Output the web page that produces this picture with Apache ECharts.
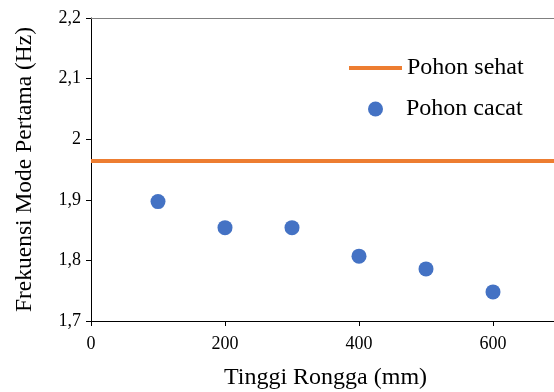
<!DOCTYPE html>
<html><head><meta charset="utf-8">
<script src="https://cdn.jsdelivr.net/npm/echarts@6/dist/echarts.min.js"></script>
<style>html,body{margin:0;padding:0;background:#fff}#c{width:554px;height:392px}</style>
</head><body><div id="c"></div>
<script>
var xValues = [100, 200, 300, 400, 500, 600];
var cacatValues = [1.897, 1.854, 1.854, 1.807, 1.786, 1.748];
var sehatValue = 1.964;
var sehatRange = [0, 700];

var font = 'Liberation Serif, Times New Roman, serif';
var chart = echarts.init(document.getElementById('c'), null, {renderer: 'canvas'});
chart.setOption({
  animation: false,
  textStyle: {fontFamily: font},
  grid: {left: 91, top: 18, width: 469, height: 303, containLabel: false, outerBoundsMode: 'none'},
  legend: [
    {data: [{name: 'Pohon sehat', icon: 'rect'}], left: 344, top: 51, itemWidth: 53, itemHeight: 4, itemGap: 0,
     textStyle: {fontFamily: font, fontSize: 24, color: '#000'}},
    {data: [{name: 'Pohon cacat', icon: 'circle'}], left: 363, top: 92, itemWidth: 15, itemHeight: 15,
     textStyle: {fontFamily: font, fontSize: 24, color: '#000', padding: [0, 0, 0, 18]}}
  ],
  xAxis: [{
    type: 'value', min: 0, max: 700, interval: 200,
    name: 'Tinggi Rongga (mm)', nameLocation: 'middle', nameGap: 45,
    nameTextStyle: {fontFamily: font, fontSize: 24, color: '#000'},
    axisLine: {lineStyle: {color: '#000', width: 1}},
    axisTick: {show: true, length: 5, lineStyle: {color: '#000'}},
    axisLabel: {fontFamily: font, fontSize: 18, color: '#000', margin: 14, showMaxLabel: false},
    splitLine: {show: false}
  }, {
    type: 'value', position: 'top', min: 0, max: 700,
    axisLine: {show: true, lineStyle: {color: '#808080', width: 1}},
    axisTick: {show: false}, axisLabel: {show: false}, splitLine: {show: false}
  }],
  yAxis: {
    type: 'value', min: 1.7, max: 2.2, interval: 0.1,
    name: 'Frekuensi Mode Pertama (Hz)', nameLocation: 'middle', nameGap: 54,
    nameTextStyle: {fontFamily: font, fontSize: 23.5, color: '#000'},
    axisLine: {show: true, lineStyle: {color: '#000', width: 1}},
    axisTick: {show: true, length: 5, lineStyle: {color: '#000'}},
    axisLabel: {fontFamily: font, fontSize: 18, color: '#000', margin: 10,
      formatter: function (v) { return String(Math.round(v * 10) / 10).replace('.', ','); }},
    splitLine: {show: false}
  },
  series: [
    {name: 'Pohon sehat', type: 'line', showSymbol: false, symbol: 'none',
     data: sehatRange.map(function (x) { return [x, sehatValue]; }),
     lineStyle: {color: '#ED7D31', width: 4}, itemStyle: {color: '#ED7D31'}},
    {name: 'Pohon cacat', type: 'scatter', symbolSize: 15,
     data: xValues.map(function (x, i) { return [x, cacatValues[i]]; }),
     itemStyle: {color: '#4472C4', opacity: 1}}
  ]
});
</script></body></html>
